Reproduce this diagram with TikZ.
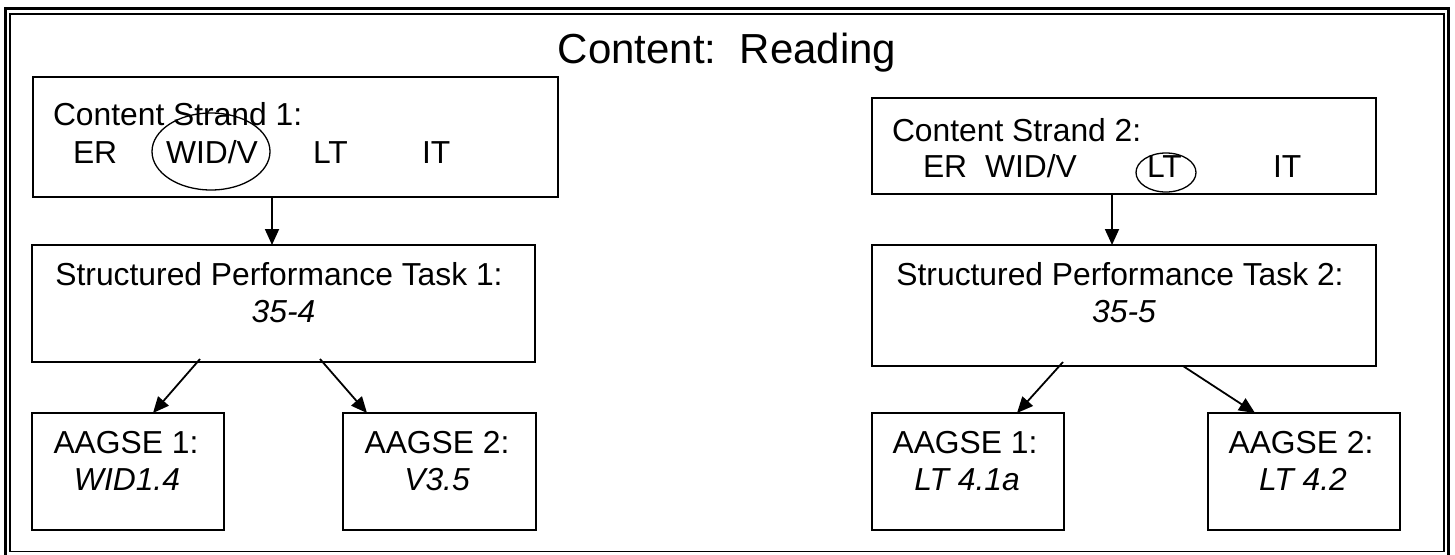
\documentclass[tikz,border=0pt]{standalone}
\usepackage{fontspec}
\setmainfont{Liberation Sans}
\usetikzlibrary{arrows.meta,shapes.geometric}
\begin{document}
\begin{tikzpicture}[x=1pt,y=-1pt,
  box/.style={draw,line width=1.8pt,inner sep=0pt,outer sep=0pt,minimum height=117pt,minimum width=192pt},
  txt/.style={inner sep=0pt,outer sep=0pt,anchor=base,font=\fontsize{31.8}{38}\selectfont},
  txtw/.style={txt,anchor=base west},
  itx/.style={txt,font=\fontsize{31.8}{38}\selectfont\itshape},
  oval/.style={draw,ellipse,line width=1.3pt,inner sep=0pt,outer sep=0pt},
  arr/.style={line width=1.8pt,-{Triangle[length=16pt,width=14pt]}},
  frameout/.style={draw,line width=2.8pt},
  framein/.style={draw,line width=1.8pt}
]
\useasboundingbox (0,0) rectangle (1455,554);
% page border (double line)
\path[frameout] (5.3,8.7) rectangle (1448.6,557.5);
\path[framein] (10.2,14.3) rectangle (1443.6,551.5);

% title
\node[txt,font=\fontsize{42}{50}\selectfont] (title) at (727,63) {Content:\ \ Reading};

% boxes
\node[box,minimum width=525pt,minimum height=120pt] (cs1) at (295.5,137) {};
\node[box,minimum width=504pt,minimum height=96pt] (cs2) at (1124,146) {};
\node[box,minimum width=503pt,minimum height=117pt] (spt1) at (283.5,303.5) {};
\node[box,minimum width=504pt,minimum height=121pt] (spt2) at (1124,305.5) {};
\node[box] (a11) at (128,471.5) {};
\node[box,minimum width=193pt] (a12) at (439.5,471.5) {};
\node[box] (a21) at (968,471.5) {};
\node[box] (a22) at (1304,471.5) {};

% strand 1 text
\node[txtw] (cs1t) at (53,125) {Content Strand 1:};
\node[txtw] (cs1er) at (73,163) {ER};
\node[txtw] (cs1wid) at (166,163) {WID/V};
\node[txtw] (cs1lt) at (313,163) {LT};
\node[txtw] (cs1it) at (422,163) {IT};
\node[oval,minimum width=118pt,minimum height=77pt] (e1) at (211,151.5) {};

% strand 2 text
\node[txtw] (cs2t) at (892,141.5) {Content Strand 2:};
\node[txtw] (cs2er) at (923,177.5) {ER};
\node[txtw] (cs2wid) at (985,177.5) {WID/V};
\node[txtw] (cs2lt) at (1147,177.5) {LT};
\node[txtw] (cs2it) at (1273,177.5) {IT};
\node[oval,minimum width=60pt,minimum height=39pt] (e2) at (1166,172.5) {};

% task texts
\node[txt] (spt1a) at (279,285) {Structured Performance Task 1:};
\node[itx] (spt1b) at (283.5,322) {35-4};
\node[txt] (spt2a) at (1120,285) {Structured Performance Task 2:};
\node[itx] (spt2b) at (1124,322) {35-5};

% AAGSE texts
\node[txt] (a11a) at (126,453) {AAGSE 1:};
\node[itx] (a11b) at (127,490) {WID1.4};
\node[txt] (a12a) at (437,453) {AAGSE 2:};
\node[itx] (a12b) at (437,490) {V3.5};
\node[txt] (a21a) at (965,453) {AAGSE 1:};
\node[itx] (a21b) at (967,490) {LT 4.1a};
\node[txt] (a22a) at (1301,453) {AAGSE 2:};
\node[itx] (a22b) at (1303,490) {LT 4.2};

% connectors
\draw[arr] ([xshift=-23.5pt]cs1.south) -- ([xshift=-11.5pt]spt1.north);
\draw[arr] ([xshift=-12pt]cs2.south) -- ([xshift=-12pt]spt2.north);
\draw[arr] ([xshift=-83.5pt,yshift=3pt]spt1.south) -- ([xshift=25pt]a11.north);
\draw[arr] ([xshift=36.5pt,yshift=3pt]spt1.south) -- ([xshift=-72.5pt]a12.north);
\draw[arr] ([xshift=-61pt,yshift=4pt]spt2.south) -- ([xshift=49pt]a21.north);
\draw[arr] ([xshift=59pt]spt2.south) -- ([xshift=-49pt]a22.north);
\end{tikzpicture}
\end{document}
